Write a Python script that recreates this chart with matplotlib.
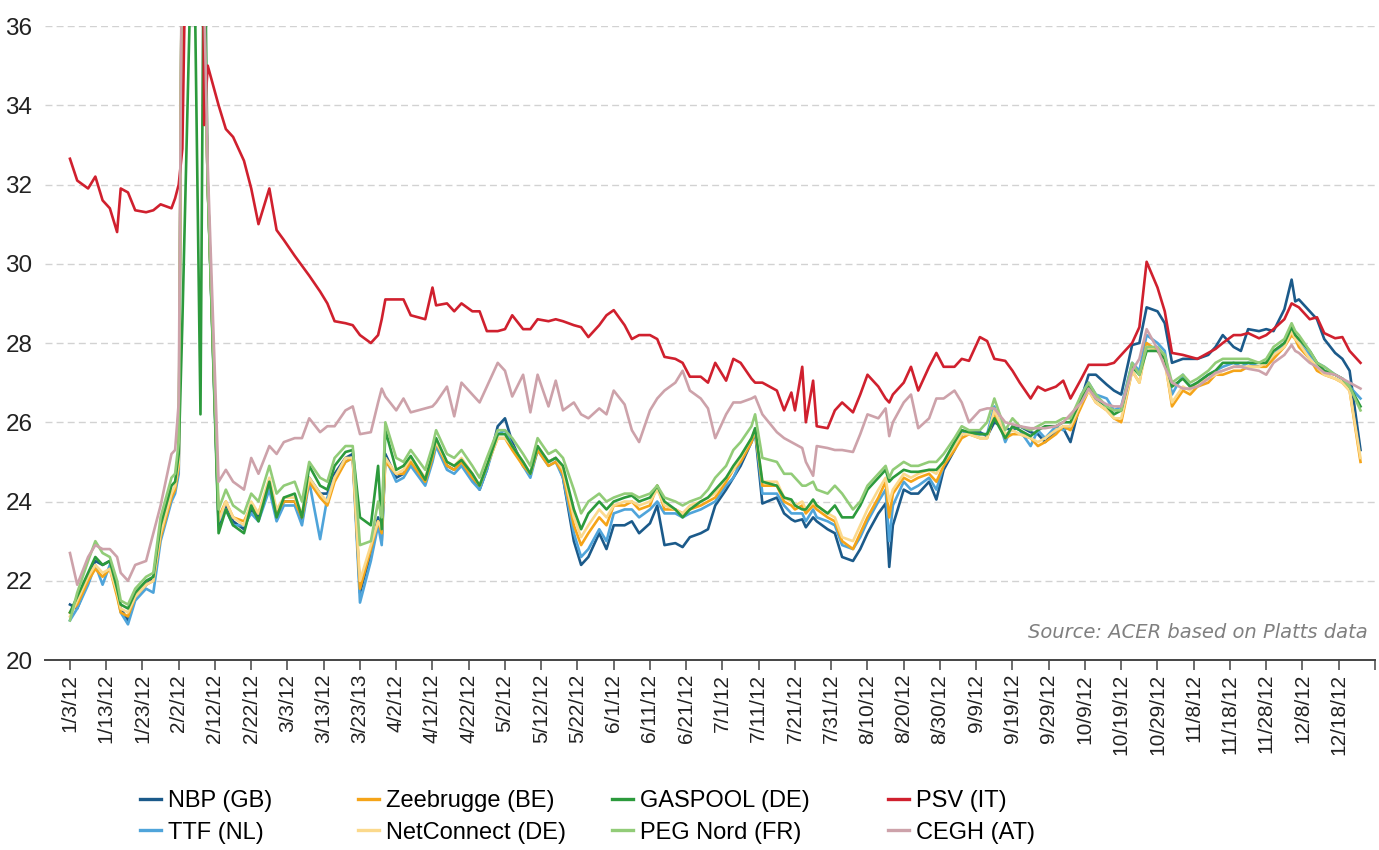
import numpy as np
import pandas as pd
import matplotlib
matplotlib.use("Agg")
import matplotlib.pyplot as plt
from matplotlib.lines import Line2D

plt.rcParams['font.family'] = ['Liberation Sans', 'DejaVu Sans']

# sample dates (2012), one block per month
dates = [
    "1/3", "1/5", "1/8", "1/10", "1/12", "1/14", "1/16", "1/17", "1/19", "1/21", "1/24", "1/26", "1/28", "1/31",
    "2/1", "2/2", "2/3", "2/6", "2/8", "2/9", "2/10", "2/13", "2/15", "2/17", "2/20", "2/22", "2/24", "2/27", "2/29",
    "3/2", "3/5", "3/7", "3/9", "3/12", "3/14", "3/16", "3/19", "3/21", "3/23", "3/26", "3/28", "3/29", "3/30",
    "4/2", "4/4", "4/6", "4/10", "4/12", "4/13", "4/16", "4/18", "4/20", "4/23", "4/25", "4/27", "4/30",
    "5/2", "5/4", "5/7", "5/9", "5/11", "5/14", "5/16", "5/18", "5/21", "5/23", "5/25", "5/28", "5/30",
    "6/1", "6/4", "6/6", "6/8", "6/11", "6/13", "6/15", "6/18", "6/20", "6/22", "6/25", "6/27", "6/29",
    "7/2", "7/4", "7/6", "7/9", "7/10", "7/12", "7/16", "7/18", "7/20", "7/21", "7/23", "7/24", "7/26", "7/27", "7/30",
    "8/1", "8/3", "8/6", "8/8", "8/10", "8/13", "8/15", "8/16", "8/17", "8/20", "8/22", "8/24", "8/27", "8/29", "8/31",
    "9/3", "9/5", "9/7", "9/10", "9/12", "9/14", "9/17", "9/19", "9/21", "9/24", "9/26", "9/28",
    "10/1", "10/3", "10/5", "10/8", "10/10", "10/12", "10/15", "10/17", "10/19", "10/22", "10/24", "10/26", "10/29", "10/31",
    "11/2", "11/5", "11/7", "11/9", "11/12", "11/14", "11/16", "11/19", "11/21", "11/23", "11/26", "11/28", "11/30",
    "12/3", "12/5", "12/6", "12/7", "12/10", "12/12", "12/14", "12/17", "12/19", "12/21", "12/24",
]

nbp = [
    21.4, 21.3, 22.0, 22.5, 22.4, 22.5, 21.8, 21.3, 21.0, 21.6, 21.9, 22.1, 23.2, 24.1,
    24.3, 24.8, 40, 45, 40, 36.5, 32, 23.4, 23.9, 23.5, 23.3, 23.8, 23.6, 24.4, 23.6,
    24.0, 24.0, 23.5, 24.6, 24.2, 24.2, 24.7, 25.1, 25.2, 21.7, 22.7, 23.6, 23.0, 25.2,
    24.6, 24.7, 25.0, 24.5, 25.1, 25.5, 24.9, 24.8, 25.0, 24.6, 24.3, 24.8, 25.9,
    26.1, 25.5, 24.9, 24.7, 25.3, 25.0, 25.1, 24.6, 23.0, 22.4, 22.6, 23.2, 22.8,
    23.4, 23.4, 23.5, 23.2, 23.45, 23.9, 22.9, 22.95, 22.85, 23.1, 23.2, 23.3, 23.9,
    24.3, 24.6, 24.9, 25.5, 25.75, 23.95, 24.1, 23.7, 23.55, 23.5, 23.55, 23.35, 23.6, 23.5, 23.3,
    23.2, 22.6, 22.5, 22.8, 23.2, 23.7, 23.95, 22.35, 23.4, 24.3, 24.2, 24.2, 24.5, 24.05, 24.8,
    25.3, 25.7, 25.75, 25.75, 25.65, 26.0, 25.85, 25.8, 25.9, 25.75, 25.7, 25.5,
    25.8, 25.85, 25.5, 26.6, 27.2, 27.2, 26.95, 26.8, 26.7, 27.95, 28.0, 28.9, 28.8, 28.5,
    27.5, 27.6, 27.6, 27.6, 27.7, 27.9, 28.2, 27.9, 27.8, 28.35, 28.3, 28.35, 28.3,
    28.85, 29.6, 29.05, 29.1, 28.8, 28.6, 28.1, 27.75, 27.6, 27.3, 25.3,
]
ttf = [
    21.0, 21.3, 21.9, 22.4, 21.9, 22.4, 21.7, 21.2, 20.9, 21.5, 21.8, 21.7, 23.0, 24.0,
    24.2, 24.7, 40, 45, 40, 36.5, 32, 23.5, 23.8, 23.4, 23.4, 23.7, 23.5, 24.3, 23.5,
    23.9, 23.9, 23.4, 24.5, 23.05, 24.1, 24.6, 25.0, 25.1, 21.45, 22.5, 23.4, 22.9, 25.1,
    24.5, 24.6, 24.9, 24.4, 25.0, 25.4, 24.8, 24.7, 24.9, 24.5, 24.3, 24.8, 25.7,
    25.8, 25.4, 24.9, 24.6, 25.3, 24.9, 25.0, 24.6, 23.2, 22.6, 22.8, 23.3, 23.0,
    23.7, 23.8, 23.8, 23.6, 23.8, 24.0, 23.7, 23.7, 23.6, 23.7, 23.8, 23.9, 24.0,
    24.4, 24.6, 25.0, 25.5, 25.8, 24.2, 24.2, 23.9, 23.7, 23.7, 23.7, 23.5, 23.8, 23.6, 23.5,
    23.4, 22.9, 22.8, 23.1, 23.5, 24.0, 24.3, 23.0, 23.9, 24.5, 24.3, 24.4, 24.6, 24.3, 24.9,
    25.4, 25.8, 25.7, 25.7, 25.7, 26.4, 25.5, 25.9, 25.8, 25.4, 25.8, 25.6,
    25.9, 25.8, 25.9, 26.7, 27.0, 26.7, 26.6, 26.3, 26.4, 27.5, 27.3, 28.2, 28.0, 27.8,
    26.7, 27.2, 26.9, 27.0, 27.2, 27.3, 27.4, 27.5, 27.4, 27.5, 27.4, 27.5, 27.7,
    28.0, 28.3, 28.2, 28.0, 27.7, 27.5, 27.4, 27.2, 27.1, 26.9, 26.6,
]
zeebrugge = [
    21.2, 21.4, 22.0, 22.3, 22.1, 22.3, 21.6, 21.2, 21.1, 21.6, 21.9, 22.0, 23.1, 24.1,
    24.3, 24.9, 40, 45, 40, 36.5, 32, 23.6, 24.0, 23.6, 23.5, 23.9, 23.7, 24.5, 23.7,
    24.0, 24.0, 23.6, 24.5, 24.1, 23.9, 24.5, 25.0, 25.1, 21.8, 22.8, 23.5, 23.2, 25.0,
    24.7, 24.7, 25.0, 24.5, 25.1, 25.5, 24.9, 24.8, 25.0, 24.6, 24.4, 24.9, 25.6,
    25.6, 25.3, 24.9, 24.7, 25.3, 24.9, 25.0, 24.7, 23.4, 22.9, 23.2, 23.6, 23.4,
    23.9, 23.9, 24.0, 23.8, 23.9, 24.4, 23.8, 23.8, 23.7, 23.8, 23.9, 24.0, 24.1,
    24.5, 24.8, 25.0, 25.5, 25.8, 24.4, 24.4, 24.0, 23.9, 23.8, 23.9, 23.7, 23.9, 23.8, 23.6,
    23.5, 23.0, 22.8, 23.2, 23.6, 24.1, 24.5, 23.6, 24.2, 24.6, 24.5, 24.6, 24.7, 24.5, 24.9,
    25.3, 25.6, 25.7, 25.6, 25.6, 26.2, 25.6, 25.7, 25.7, 25.6, 25.4, 25.5,
    25.7, 25.9, 25.8, 26.4, 26.8, 26.5, 26.3, 26.1, 26.0, 27.3, 27.0, 28.0, 27.8, 27.6,
    26.4, 26.8, 26.7, 26.9, 27.0, 27.2, 27.2, 27.3, 27.3, 27.4, 27.4, 27.4, 27.6,
    27.9, 28.2, 28.1, 27.9, 27.6, 27.3, 27.2, 27.1, 27.0, 26.8, 25.0,
]
netconnect = [
    21.1, 21.5, 22.1, 22.4, 22.2, 22.3, 21.7, 21.3, 21.2, 21.6, 21.9, 22.0, 23.2, 24.2,
    24.4, 25.0, 40, 45, 40, 36.5, 32, 23.5, 24.0, 23.6, 23.4, 24.0, 23.7, 24.6, 23.8,
    24.1, 24.1, 23.7, 24.6, 24.2, 24.0, 24.6, 25.1, 25.1, 22.0, 22.9, 23.5, 23.3, 25.1,
    24.7, 24.8, 25.1, 24.6, 25.2, 25.5, 25.0, 24.9, 25.1, 24.7, 24.4, 24.9, 25.6,
    25.6, 25.4, 25.0, 24.7, 25.4, 25.0, 25.1, 24.8, 23.6, 23.1, 23.4, 23.8, 23.6,
    23.9, 24.0, 24.0, 23.9, 24.0, 24.3, 23.9, 23.8, 23.7, 23.9, 24.0, 24.1, 24.2,
    24.6, 24.8, 25.1, 25.6, 25.8, 24.5, 24.5, 24.1, 24.0, 23.9, 24.0, 23.8, 24.0, 23.9, 23.7,
    23.6, 23.1, 23.0, 23.4, 23.8, 24.3, 24.6, 24.0, 24.3, 24.7, 24.6, 24.7, 24.8, 24.7, 25.0,
    25.4, 25.7, 25.7, 25.6, 25.6, 26.3, 25.7, 25.8, 25.7, 25.6, 25.5, 25.6,
    25.8, 25.9, 25.9, 26.5, 26.8, 26.5, 26.3, 26.1, 26.1, 27.3, 27.0, 27.9, 27.8, 27.5,
    26.5, 26.9, 26.8, 27.0, 27.1, 27.2, 27.3, 27.4, 27.4, 27.4, 27.4, 27.5, 27.7,
    27.9, 28.3, 28.1, 28.0, 27.6, 27.4, 27.2, 27.1, 27.0, 26.8, 25.1,
]
gaspool = [
    21.2, 21.6, 22.2, 22.6, 22.4, 22.5, 21.8, 21.4, 21.3, 21.7, 22.0, 22.1, 23.4, 24.4,
    24.5, 25.2, 28.5, 40, 26.2, 40, 32, 23.2, 23.8, 23.4, 23.2, 23.9, 23.5, 24.5, 23.6,
    24.1, 24.2, 23.6, 24.9, 24.4, 24.3, 24.9, 25.25, 25.3, 23.6, 23.4, 24.9, 23.3, 25.8,
    24.8, 24.9, 25.15, 24.55, 25.2, 25.6, 25.0, 24.9, 25.05, 24.7, 24.4, 24.9, 25.7,
    25.7, 25.4, 25.0, 24.7, 25.4, 25.0, 25.1, 24.9, 23.8, 23.3, 23.7, 24.0, 23.8,
    24.0, 24.1, 24.15, 24.0, 24.1, 24.4, 24.0, 23.8, 23.6, 23.8, 24.0, 24.1, 24.3,
    24.6, 24.9, 25.15, 25.6, 25.85, 24.5, 24.4, 24.1, 24.05, 23.9, 23.8, 23.8, 24.05, 23.9, 23.7,
    23.9, 23.6, 23.6, 23.9, 24.3, 24.6, 24.8, 24.5, 24.6, 24.8, 24.75, 24.75, 24.8, 24.8, 25.0,
    25.5, 25.8, 25.75, 25.7, 25.7, 26.1, 25.6, 25.9, 25.8, 25.65, 25.8, 25.9,
    25.9, 26.0, 26.0, 26.6, 26.9, 26.6, 26.4, 26.2, 26.3, 27.4, 27.2, 27.8, 27.8, 27.6,
    26.9, 27.1, 26.9, 27.0, 27.2, 27.3, 27.5, 27.5, 27.5, 27.5, 27.5, 27.5, 27.8,
    28.0, 28.4, 28.2, 28.1, 27.8, 27.5, 27.3, 27.2, 27.1, 26.9, 26.4,
]
peg_nord = [
    21.0, 21.7, 22.5, 23.0, 22.7, 22.6, 22.0, 21.5, 21.4, 21.8, 22.1, 22.2, 23.6, 24.6,
    24.7, 25.5, 40, 45, 40, 36.5, 32, 23.8, 24.3, 23.9, 23.7, 24.2, 24.0, 24.9, 24.2,
    24.4, 24.5, 24.0, 25.0, 24.6, 24.5, 25.1, 25.4, 25.4, 22.9, 23.0, 24.0, 23.6, 26.0,
    25.1, 25.0, 25.3, 24.8, 25.4, 25.8, 25.2, 25.1, 25.3, 24.9, 24.6, 25.1, 25.8,
    25.8, 25.6, 25.2, 24.9, 25.6, 25.2, 25.3, 25.1, 24.3, 23.7, 24.0, 24.2, 24.0,
    24.1, 24.2, 24.2, 24.1, 24.2, 24.4, 24.1, 24.0, 23.9, 24.0, 24.1, 24.3, 24.6,
    24.9, 25.3, 25.5, 25.9, 26.2, 25.1, 25.0, 24.7, 24.7, 24.6, 24.4, 24.4, 24.5, 24.3, 24.2,
    24.4, 24.2, 23.8, 24.0, 24.4, 24.7, 24.9, 24.6, 24.8, 25.0, 24.9, 24.9, 25.0, 25.0, 25.2,
    25.6, 25.9, 25.8, 25.8, 26.0, 26.6, 25.8, 26.1, 25.9, 25.8, 25.9, 26.0,
    26.0, 26.1, 26.1, 26.7, 27.0, 26.7, 26.4, 26.3, 26.3, 27.5, 27.2, 27.9, 27.9, 27.7,
    27.0, 27.2, 27.0, 27.1, 27.3, 27.5, 27.6, 27.6, 27.6, 27.6, 27.5, 27.6, 27.9,
    28.1, 28.5, 28.3, 28.2, 27.8, 27.5, 27.4, 27.2, 27.1, 26.9, 26.3,
]
psv = [
    32.65, 32.1, 31.9, 32.2, 31.6, 31.4, 30.8, 31.9, 31.8, 31.35, 31.3, 31.35, 31.5, 31.4,
    31.65, 32.0, 32.9, 50, 50, 33.5, 35.0, 34.0, 33.4, 33.2, 32.6, 31.9, 31.0, 31.9, 30.85,
    30.6, 30.2, 29.95, 29.7, 29.3, 29.0, 28.55, 28.5, 28.45, 28.2, 28.0, 28.2, 28.6, 29.1,
    29.1, 29.1, 28.7, 28.6, 29.4, 28.95, 29.0, 28.8, 29.0, 28.8, 28.8, 28.3, 28.3,
    28.35, 28.7, 28.35, 28.35, 28.6, 28.55, 28.6, 28.55, 28.45, 28.4, 28.15, 28.45, 28.7,
    28.83, 28.45, 28.1, 28.2, 28.2, 28.1, 27.65, 27.6, 27.5, 27.15, 27.15, 27.0, 27.5,
    27.05, 27.6, 27.5, 27.1, 27.0, 27.0, 26.8, 26.3, 26.75, 26.3, 27.4, 26.0, 27.05, 25.9, 25.85,
    26.3, 26.5, 26.25, 26.7, 27.2, 26.9, 26.6, 26.5, 26.7, 27.0, 27.4, 26.8, 27.4, 27.75, 27.4,
    27.4, 27.6, 27.55, 28.15, 28.05, 27.6, 27.55, 27.3, 27.0, 26.6, 26.9, 26.8,
    26.9, 27.05, 26.6, 27.1, 27.45, 27.45, 27.45, 27.5, 27.7, 28.0, 28.4, 30.05, 29.4, 28.8,
    27.75, 27.7, 27.65, 27.6, 27.75, 27.85, 28.0, 28.2, 28.2, 28.25, 28.12, 28.2, 28.35,
    28.6, 29.0, 28.95, 28.9, 28.6, 28.65, 28.25, 28.12, 28.15, 27.8, 27.5,
]
cegh = [
    22.7, 21.9, 22.6, 22.9, 22.8, 22.8, 22.6, 22.2, 22.0, 22.4, 22.5, 23.2, 23.9, 25.2,
    25.3, 26.5, 40, 45, 40, 36.8, 32.5, 24.5, 24.8, 24.5, 24.3, 25.1, 24.7, 25.4, 25.2,
    25.5, 25.6, 25.6, 26.1, 25.75, 25.9, 25.9, 26.3, 26.4, 25.7, 25.75, 26.5, 26.85, 26.65,
    26.3, 26.6, 26.25, 26.35, 26.4, 26.5, 26.9, 26.15, 27.0, 26.7, 26.5, 26.9, 27.5,
    27.3, 26.65, 27.2, 26.25, 27.2, 26.4, 27.05, 26.3, 26.5, 26.2, 26.1, 26.35, 26.2,
    26.8, 26.45, 25.8, 25.5, 26.3, 26.6, 26.8, 27.0, 27.3, 26.8, 26.6, 26.35, 25.6,
    26.2, 26.5, 26.5, 26.6, 26.65, 26.2, 25.75, 25.6, 25.5, 25.45, 25.35, 25.0, 24.65, 25.4, 25.35,
    25.3, 25.3, 25.25, 25.7, 26.2, 26.1, 26.35, 25.65, 26.0, 26.5, 26.7, 25.85, 26.1, 26.6, 26.6,
    26.8, 26.5, 26.0, 26.3, 26.35, 26.35, 26.0, 25.95, 25.9, 25.85, 25.85, 25.85,
    25.9, 26.0, 26.2, 26.5, 26.85, 26.6, 26.45, 26.4, 26.4, 27.3, 27.6, 28.35, 27.85, 27.4,
    27.0, 26.85, 26.85, 26.9, 27.1, 27.25, 27.3, 27.4, 27.4, 27.35, 27.3, 27.2, 27.5,
    27.7, 27.95, 27.8, 27.75, 27.5, 27.4, 27.25, 27.2, 27.1, 27.0, 26.85,
]

series_names = ["NBP (GB)", "TTF (NL)", "Zeebrugge (BE)", "NetConnect (DE)",
                "GASPOOL (DE)", "PEG Nord (FR)", "PSV (IT)", "CEGH (AT)"]
series_values = [nbp, ttf, zeebrugge, netconnect, gaspool, peg_nord, psv, cegh]
series_colors = ["#1b5a8a", "#4fa4da", "#f5a418", "#fbd98c",
                 "#2c9a3c", "#92cc78", "#d0202e", "#cda2aa"]

tick_labels = ["1/3/12", "1/13/12", "1/23/12", "2/2/12", "2/12/12", "2/22/12",
               "3/3/12", "3/13/12", "3/23/13", "4/2/12", "4/12/12", "4/22/12",
               "5/2/12", "5/12/12", "5/22/12", "6/1/12", "6/11/12", "6/21/12",
               "7/1/12", "7/11/12", "7/21/12", "7/31/12", "8/10/12", "8/20/12",
               "8/30/12", "9/9/12", "9/19/12", "9/29/12", "10/9/12", "10/19/12",
               "10/29/12", "11/8/12", "11/18/12", "11/28/12", "12/8/12", "12/18/12"]

x = pd.to_datetime([d + "/2012" for d in dates], format="%m/%d/%Y")

fig = plt.figure(figsize=(13.79, 8.5), dpi=100)
ax = fig.add_axes([0.0326, 0.2235, 0.9645, 0.7459])

for name, vals, col in zip(series_names, series_values, series_colors):
    ax.plot(x, vals, color=col, lw=1.9, label=name)

start = pd.Timestamp("2012-01-03")
ax.set_xlim(start - pd.Timedelta(days=6.9), start + pd.Timedelta(days=358.5))
ax.set_ylim(20, 36)

ticks = pd.date_range(start, periods=len(tick_labels) + 1, freq="10D")
ax.set_xticks(ticks)
ax.set_xticklabels(tick_labels + [""], rotation=90, fontsize=15, color="#222222")
ax.tick_params(axis="x", direction="out", length=7, width=1.1, color="#444444", pad=3)

ax.set_yticks(np.arange(20, 37, 2))
ax.tick_params(axis="y", length=0, labelsize=17.5, pad=9, labelcolor="#222222")

for yv in np.arange(22, 37, 2):
    ax.axhline(yv, color="#d2d2d2", lw=1.0, ls=(0, (5, 3)), zorder=0)

for s in ["left", "right", "top"]:
    ax.spines[s].set_visible(False)
ax.spines["bottom"].set_color("#444444")
ax.spines["bottom"].set_linewidth(1.4)

ax.text(0.9947, 0.043, "Source: ACER based on Platts data", transform=ax.transAxes,
        ha="right", va="center", fontsize=14, style="italic", color="#808080",
        family="DejaVu Sans")

# legend in four columns of two rows
handles = [Line2D([], [], color=c, lw=2.4) for c in series_colors]
col_x = [0.1015, 0.2596, 0.4438, 0.644]
for i, cx in enumerate(col_x):
    fig.legend(handles[2 * i:2 * i + 2], series_names[2 * i:2 * i + 2],
               loc="center left", bbox_to_anchor=(cx, 0.039), frameon=False,
               fontsize=17, handlelength=0.9, handletextpad=0.3,
               labelspacing=0.4, borderpad=0, borderaxespad=0)

fig.savefig("out.png", dpi=100)
